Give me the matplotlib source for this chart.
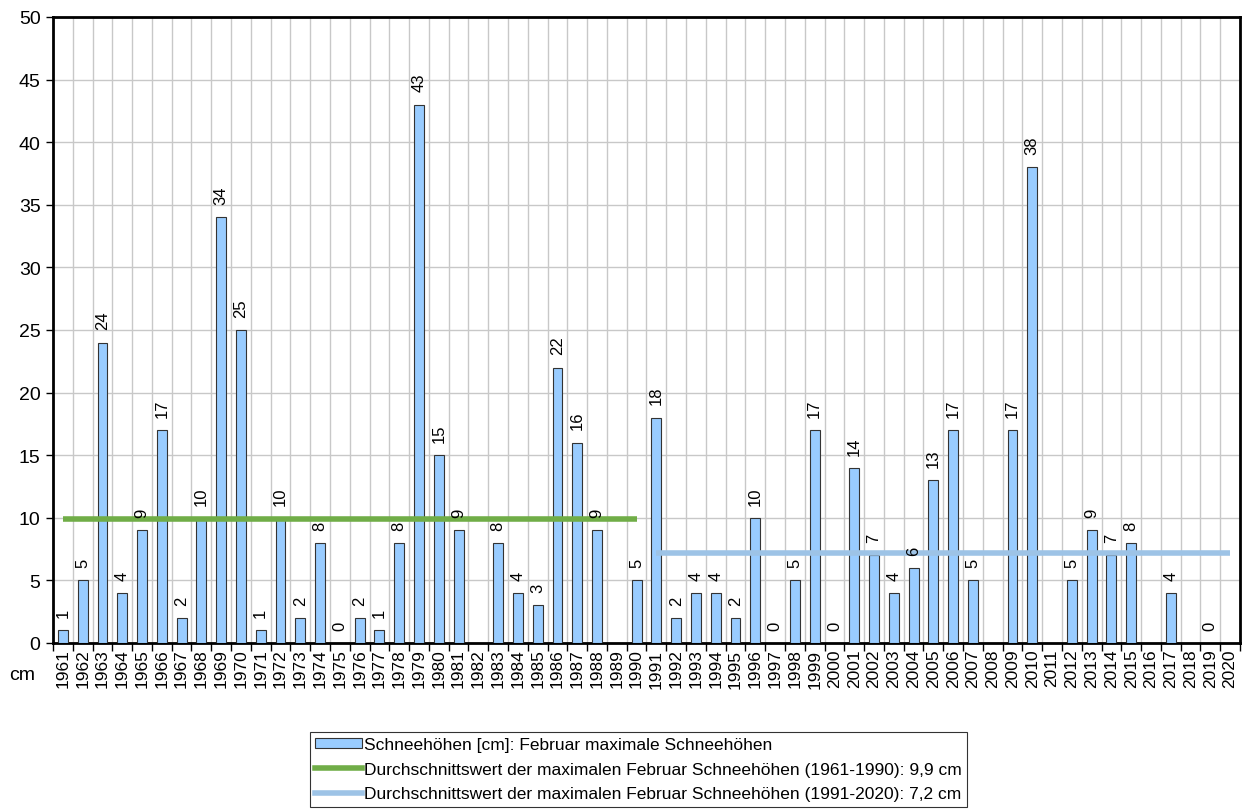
import numpy as np
import matplotlib
matplotlib.use("Agg")
import matplotlib.pyplot as plt
from matplotlib.lines import Line2D
from matplotlib.patches import Patch

plt.rcParams["font.family"] = ["Liberation Sans", "DejaVu Sans"]

years = list(range(1961, 2021))
# February maximum snow depth in cm; None = no value reported
snow_cm = [
    1, 5, 24, 4, 9, 17, 2, 10, 34, 25,
    1, 10, 2, 8, 0, 2, 1, 8, 43, 15,
    9, None, 8, 4, 3, 22, 16, 9, None, 5,
    18, 2, 4, 4, 2, 10, 0, 5, 17, 0,
    14, 7, 4, 6, 13, 17, 5, None, 17, 38,
    None, 5, 9, 7, 8, None, 4, None, 0, None,
]
mean_1961_1990 = 9.9
mean_1991_2020 = 7.2

bar_color = "#99ccff"
green = "#70ad47"
light_blue = "#9dc3e6"

fig = plt.figure(figsize=(12.48, 8.12), dpi=100)
ax = fig.add_axes([53 / 1248, 1 - 644 / 812, (1240 - 53) / 1248, (644 - 18) / 812])

x = np.arange(len(years))
vals = np.array([np.nan if v is None else v for v in snow_cm], dtype=float)
ax.bar(x, np.nan_to_num(vals), width=0.5, color=bar_color, edgecolor="#333333",
       linewidth=0.8, zorder=3)

for xi, v in zip(x, snow_cm):
    if v is None:
        continue
    ax.annotate(str(v), (xi, v), xytext=(0, 9.5), textcoords="offset points",
                rotation=90, ha="center", va="bottom", fontsize=12, zorder=5)

ax.plot([x[0], x[29]], [mean_1961_1990] * 2, color=green, lw=4, zorder=4,
        solid_capstyle="butt")
ax.plot([x[30], x[59]], [mean_1991_2020] * 2, color=light_blue, lw=4, zorder=4,
        solid_capstyle="butt")

ax.set_xlim(-0.5, len(years) - 0.5)
ax.set_ylim(0, 50)
ax.set_yticks(range(0, 51, 5))
ax.tick_params(axis="y", labelsize=14, length=5, width=1, pad=4)

# category boundaries carry the vertical grid and ticks
bounds = np.arange(-0.5, len(years), 1.0)
ax.set_xticks(bounds)
ax.set_xticklabels([])
ax.set_xticks(x, minor=True)
ax.set_xticklabels([str(y) for y in years], minor=True, rotation=90, fontsize=12.5)
ax.tick_params(axis="x", which="major", length=6, width=1)
ax.tick_params(axis="x", which="minor", length=0, pad=4)

ax.grid(True, which="major", color="#c8c8c8", lw=1, zorder=0)
ax.set_axisbelow(True)
for s in ax.spines.values():
    s.set_linewidth(2)
    s.set_color("black")

fig.text(22 / 1248, 1 - 676 / 812, "cm", fontsize=14, ha="center", va="center")

handles = [
    Patch(facecolor=bar_color, edgecolor="#333333", linewidth=0.8),
    Line2D([], [], color=green, lw=4),
    Line2D([], [], color=light_blue, lw=4),
]
labels = [
    "Schneehöhen [cm]: Februar maximale Schneehöhen",
    "Durchschnittswert der maximalen Februar Schneehöhen (1961-1990): 9,9 cm",
    "Durchschnittswert der maximalen Februar Schneehöhen (1991-2020): 7,2 cm",
]
leg = fig.legend(handles, labels, loc="upper left",
                 bbox_to_anchor=(310 / 1248, 1 - 733 / 812), fontsize=12.5,
                 frameon=True, fancybox=False, edgecolor="black",
                 handlelength=2.7, handleheight=0.55, handletextpad=0.1,
                 labelspacing=0.55, borderpad=0.3, borderaxespad=0)
leg.get_frame().set_linewidth(0.8)

fig.savefig("out.png", dpi=100)
